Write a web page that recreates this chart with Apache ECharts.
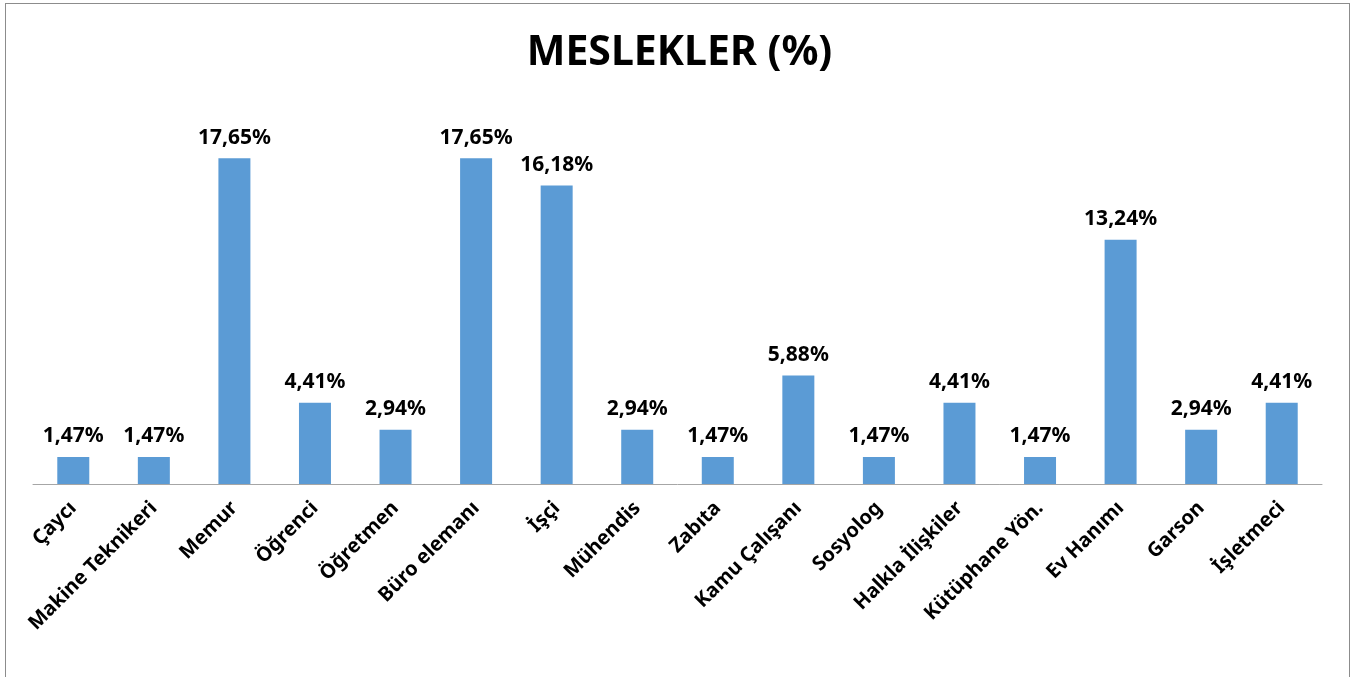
<!DOCTYPE html>
<html>
<head>
<meta charset="utf-8">
<script src="https://cdn.jsdelivr.net/npm/echarts@6/dist/echarts.min.js"></script>
<style>
html, body { margin: 0; padding: 0; background: #fff; }
#frame { position: absolute; left: 5px; top: 3px; width: 1343px; height: 690px; border: 1px solid #8c8c8c; }
#main { position: absolute; left: 0; top: 0; width: 1359px; height: 677px; }
</style>
</head>
<body>
<div id="frame"></div>
<div id="main"></div>
<script>
var categories = ['Çaycı', 'Makine Teknikeri', 'Memur', 'Öğrenci', 'Öğretmen', 'Büro elemanı', 'İşçi', 'Mühendis',
    'Zabıta', 'Kamu Çalışanı', 'Sosyolog', 'Halkla İlişkiler', 'Kütüphane Yön.', 'Ev Hanımı', 'Garson', 'İşletmeci'];
var values = [1.47, 1.47, 17.65, 4.41, 2.94, 17.65, 16.18, 2.94, 1.47, 5.88, 1.47, 4.41, 1.47, 13.24, 2.94, 4.41];

var myChart = echarts.init(document.getElementById('main'));
myChart.setOption({
    animation: false,
    title: {
        text: 'MESLEKLER (%)',
        left: 'center',
        top: 28,
        textStyle: { fontFamily: 'Noto Sans', fontWeight: 'bold', fontSize: 41, color: '#000' }
    },
    grid: { left: 33, right: 37, top: 115, bottom: 193 },
    xAxis: {
        type: 'category',
        data: categories,
        axisLine: { lineStyle: { color: '#a6a6a6', width: 1 } },
        axisTick: { show: false },
        axisLabel: {
            interval: 0,
            rotate: 45,
            margin: 21,
            fontFamily: 'Noto Sans',
            fontWeight: 'bold',
            fontSize: 20,
            color: '#000'
        }
    },
    yAxis: {
        type: 'value',
        min: 0,
        max: 20,
        show: false,
        splitLine: { show: false }
    },
    series: [{
        type: 'bar',
        data: values,
        barWidth: 32,
        itemStyle: { color: '#5b9bd5' },
        label: {
            show: true,
            position: 'top',
            distance: 10,
            fontFamily: 'Noto Sans',
            fontWeight: 'bold',
            fontSize: 21,
            color: '#000',
            formatter: function (p) { return p.value.toFixed(2).replace('.', ',') + '%'; }
        }
    }]
});
</script>
</body>
</html>
